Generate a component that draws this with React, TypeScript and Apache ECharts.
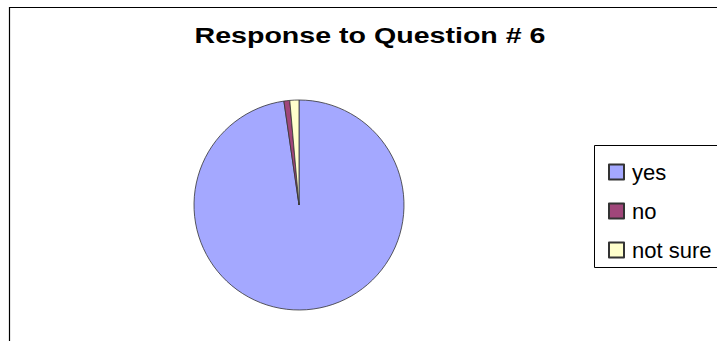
import React, { useEffect, useRef } from "react";
import * as echarts from "echarts";

const categories = ["yes", "no", "not sure"];
const values = [97.7, 0.9, 1.4];
const colors = ["#A4A8FF", "#A0467A", "#FFFFCC"];
const titleText = "Response to Question # 6";

export default function App() {
  const ref = useRef<HTMLDivElement>(null);
  useEffect(() => {
    document.body.style.margin = "0";
    const chart = echarts.init(ref.current!, undefined, { renderer: "svg" });
    chart.setOption({
      animation: false,
      backgroundColor: "#ffffff",
      legend: {
        orient: "vertical",
        left: 603,
        top: 156,
        itemWidth: 15,
        itemHeight: 15,
        itemGap: 17,
        icon: "rect",
        textStyle: {
          fontFamily: "Liberation Sans, Arial",
          fontSize: 22,
          lineHeight: 22,
          color: "#000",
          padding: [0, 0, 0, 3],
        },
        data: categories,
      },
      graphic: [
        {
          type: "polyline",
          shape: { points: [[9.5, 345], [9.5, 7.5], [730, 7.5]] },
          style: { stroke: "#000", lineWidth: 1.2, fill: "none" },
          silent: true,
        },
        {
          type: "rect",
          shape: { x: 594.5, y: 145.5, width: 140, height: 122 },
          style: { stroke: "#000", lineWidth: 1, fill: "none" },
          silent: true,
        },
        {
          type: "text",
          x: 370,
          y: 35,
          scaleX: 1.3,
          style: {
            text: titleText,
            fontFamily: "Liberation Sans, Arial",
            fontWeight: "bold",
            fontSize: 22,
            fill: "#000",
            align: "center",
            verticalAlign: "middle",
          },
        },
      ],
      series: [
        {
          type: "pie",
          center: [299, 205],
          radius: 105,
          startAngle: 90,
          clockwise: true,
          label: { show: false },
          labelLine: { show: false },
          emphasis: { disabled: true },
          itemStyle: { borderColor: "#333", borderWidth: 0.8 },
          data: categories.map((c, i) => ({
            name: c,
            value: values[i],
            itemStyle: { color: colors[i] },
          })),
        },
      ],
    });
    return () => chart.dispose();
  }, []);
  return <div ref={ref} style={{ width: 717, height: 341 }} />;
}
